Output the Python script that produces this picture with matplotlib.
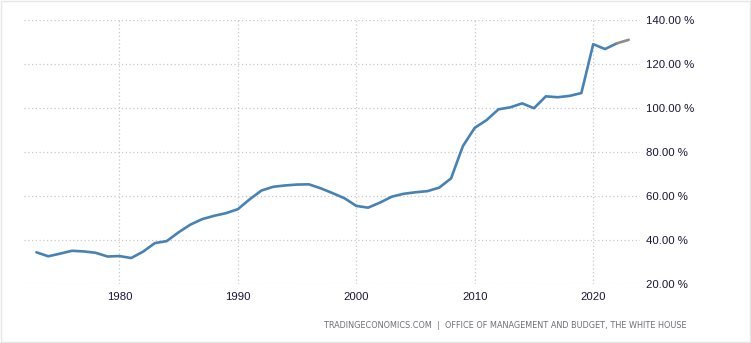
import matplotlib.pyplot as plt
from matplotlib.patches import Rectangle

# US government debt to GDP (%)
years = list(range(1973, 2023))
debt = [34.4, 32.6, 33.8, 35.1, 34.8, 34.2, 32.5, 32.7, 31.8, 34.7,
        38.6, 39.5, 43.5, 47.0, 49.5, 51.0, 52.2, 54.0, 58.5, 62.5,
        64.2, 64.8, 65.2, 65.3, 63.5, 61.3, 59.0, 55.5, 54.7, 57.0,
        59.7, 61.0, 61.7, 62.2, 63.8, 68.0, 82.7, 91.0, 94.5, 99.4,
        100.3, 102.1, 99.9, 105.3, 104.9, 105.5, 106.8, 129.0, 126.8, 129.4]
# forecast segment (grey)
fc_years = [2022, 2023]
fc_debt = [129.4, 131.0]

yticks = [20, 40, 60, 80, 100, 120, 140]
xticks = [1980, 1990, 2000, 2010, 2020]

label_col = '#1c1436'

fig = plt.figure(figsize=(7.51, 3.43), dpi=100)
W, H = 751, 343
ax = fig.add_axes([24 / W, (H - 284) / H, 616 / W, 264 / H])

ax.plot(years, debt, color='#4682b4', lw=1.9, solid_joinstyle='round', solid_capstyle='round', zorder=3)
ax.plot(fc_years, fc_debt, color='#8c8c8c', lw=1.9, solid_capstyle='round', zorder=3)

ax.set_xlim(1971.95, 2023.95)
ax.set_ylim(20, 140)
ax.set_yticks(yticks)
ax.set_yticklabels([f'{v:.2f} %' for v in yticks])
ax.set_xticks(xticks)
ax.yaxis.tick_right()
ax.tick_params(axis='both', length=0, labelsize=8.2, colors=label_col)
ax.tick_params(axis='y', pad=4)
ax.tick_params(axis='x', pad=6)
for lbl in ax.get_xticklabels() + ax.get_yticklabels():
    lbl.set_fontfamily('Liberation Sans')
ax.grid(True, color='#c8c8c8', linestyle=(0, (1, 2)), linewidth=0.9)
for s in ax.spines.values():
    s.set_visible(False)

fig.text(687 / W, 1 - 325 / H, 'TRADINGECONOMICS.COM  |  OFFICE OF MANAGEMENT AND BUDGET, THE WHITE HOUSE',
         ha='right', va='center', fontsize=5.9, color='#6e6e78')

# light frame around the image
fig.patches.append(Rectangle((0.5 / W, 1.5 / H), (W - 2) / W, (H - 2.5) / H, transform=fig.transFigure,
                             fill=False, edgecolor='#e6e6e6', lw=1))

fig.savefig('out.png', dpi=100)
